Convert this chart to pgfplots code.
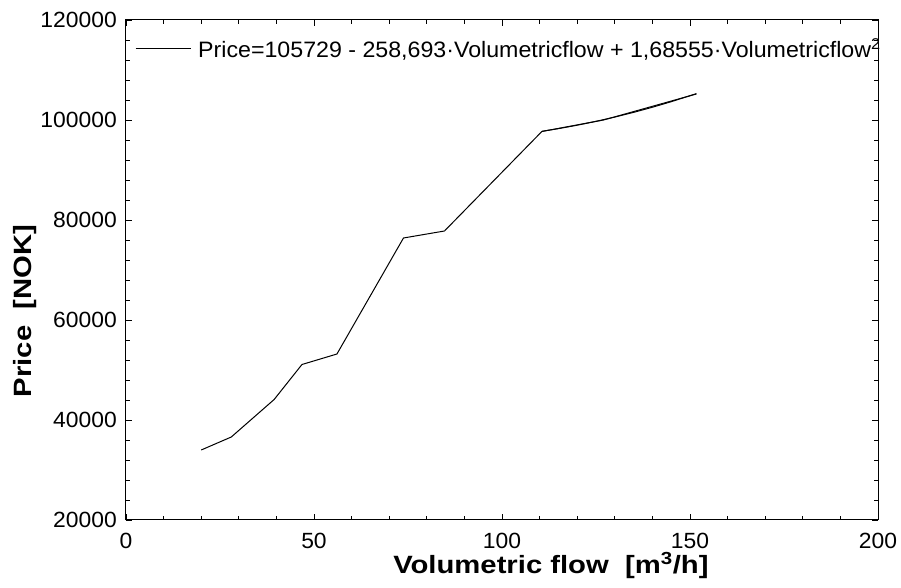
\documentclass[border=0pt]{standalone}
\usepackage{pgfplots}
\pgfplotsset{compat=1.18}
\usepackage{fontspec}
\setmainfont{Liberation Sans}[FakeStretch=1.04]
\newfontfamily\lblfont{Liberation Sans}[FakeStretch=1.17]

\begin{document}
\begin{tikzpicture}[x=1pt,y=1pt]
\path[use as bounding box] (-126,-68) rectangle (775,520);
\begin{axis}[
  at={(0,0)}, anchor=south west,
  scale only axis, width=752pt, height=500pt,
  xmin=0, xmax=200, ymin=20000, ymax=120000,
  xtick={0,50,100,150,200}, ytick={20000,40000,60000,80000,100000,120000},
  xticklabels={0,50,100,150,200},
  yticklabels={20000,40000,60000,80000,100000,120000},
  minor x tick num=4, minor y tick num=4,
  tick align=inside,
  major tick length=6pt, minor tick length=4pt,
  every tick/.style={black, line width=0.8pt},
  axis line style={black, line width=1pt},
  scaled ticks=false,
  tick label style={font=\fontsize{22}{26}\selectfont, inner sep=0pt},
  xticklabel style={anchor=north, yshift=-13pt},
  yticklabel style={anchor=east, xshift=-9pt},
  xlabel={Volumetric flow\ \ [m\textsuperscript{3}/h]},
  ylabel={Price\ \ [NOK]},
  label style={font=\lblfont\bfseries\fontsize{25}{30}\selectfont, inner sep=0pt},
  xlabel style={at={(axis description cs:0.565,-0.107)}, anchor=base},
  ylabel style={at={(axis description cs:-0.125,0.418)}, anchor=base},
  legend style={draw=none, fill=none, at={(axis description cs:0.012,0.942)},
    anchor=west, font=\fontsize{22.3}{26}\selectfont,
    inner sep=0pt, nodes={inner sep=0pt}, column sep=7pt, row sep=0pt},
  legend cell align=left,
  legend image code/.code={\draw[#1] (0pt,0pt) -- (55pt,0pt);},
]
% measured price against flow
\addplot[black, line width=1pt] coordinates {
  (20,34000) (28,36600) (39.4,44100) (46.8,51100) (56.1,53200)
  (73.8,76400) (84.7,77800) (110.6,97700) (127,100000) (151.7,105200)
};
\addlegendentry{Price=105729 - 258,693·Volumetricflow + 1,68555·Volumetricflow\textsuperscript{2}}
% second-order fit over the upper range
\addplot[black, line width=1pt, forget plot] coordinates {
  (110.6,97736) (115,98271) (120,98958) (125,99729) (130,100585)
  (135,101525) (140,102549) (145,103657) (151.7,105275)
};
\end{axis}
\end{tikzpicture}
\end{document}
